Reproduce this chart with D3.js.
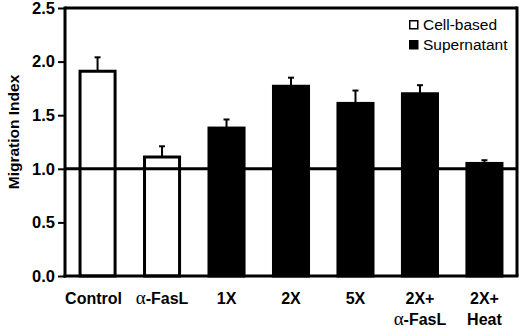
<!DOCTYPE html>
<html>
<head>
<meta charset="utf-8">
<script src="https://cdn.jsdelivr.net/npm/d3@7"></script>
<style>
  body { margin: 0; background: #fff; }
  text { font-family: "Liberation Sans", Arial, sans-serif; }
</style>
</head>
<body>
<svg id="chart" width="520" height="329"></svg>
<script>
// data
const categories = ['Control', 'a-FasL', '1X', '2X', '5X', '2X+a-FasL', '2X+Heat'];
const labelLines = [['Control'], ['α-FasL'], ['1X'], ['2X'], ['5X'], ['2X+', 'α-FasL'], ['2X+', 'Heat']];
const groups = ['cell', 'cell', 'sup', 'sup', 'sup', 'sup', 'sup'];
const means = [1.91, 1.11, 1.38, 1.77, 1.61, 1.70, 1.05];
const errors = [0.13, 0.10, 0.08, 0.08, 0.12, 0.08, 0.03];
const yTicks = [0, 0.5, 1.0, 1.5, 2.0, 2.5];
const legendItems = [{ key: 'cell', label: 'Cell-based' }, { key: 'sup', label: 'Supernatant' }];

const data = categories.map((c, i) => ({ cat: c, lines: labelLines[i], group: groups[i], mean: means[i], err: errors[i] }));
const fillFor = g => g === 'cell' ? '#fff' : '#000';

const pLeft = 65, pRight = 517, pTop = 8, pBottom = 276;
const svg = d3.select('#chart');

const x = d3.scaleBand().domain(categories).range([pLeft, pRight]).paddingInner(0.41).paddingOuter(0.21);
const y = d3.scaleLinear().domain([0, 2.5]).range([pBottom, pTop]);

// frame top + right
svg.append('line').attr('x1', pLeft).attr('x2', pRight).attr('y1', pTop).attr('y2', pTop)
  .attr('stroke', '#000').attr('stroke-width', 3);
svg.append('line').attr('x1', pRight).attr('x2', pRight).attr('y1', pTop - 1.5).attr('y2', pBottom)
  .attr('stroke', '#000').attr('stroke-width', 3);

// error bars (drawn first, bar tops cover the lower end)
const eb = svg.append('g');
eb.selectAll('line.v').data(data).enter().append('line')
  .attr('x1', d => x(d.cat) + x.bandwidth() / 2).attr('x2', d => x(d.cat) + x.bandwidth() / 2)
  .attr('y1', d => y(d.mean)).attr('y2', d => y(d.mean + d.err))
  .attr('stroke', '#000').attr('stroke-width', 2);
eb.selectAll('line.h').data(data).enter().append('line')
  .attr('x1', d => x(d.cat) + x.bandwidth() / 2 - 3).attr('x2', d => x(d.cat) + x.bandwidth() / 2 + 3)
  .attr('y1', d => y(d.mean + d.err)).attr('y2', d => y(d.mean + d.err))
  .attr('stroke', '#000').attr('stroke-width', 2);

// bars
svg.append('g').selectAll('rect').data(data).enter().append('rect')
  .attr('x', d => x(d.cat) + 1.5)
  .attr('width', x.bandwidth() - 3)
  .attr('y', d => y(d.mean))
  .attr('height', d => y(0) - y(d.mean))
  .attr('fill', d => fillFor(d.group))
  .attr('stroke', '#000').attr('stroke-width', 3);

// reference line at 1.0
svg.append('line').attr('x1', pLeft).attr('x2', pRight).attr('y1', y(1)).attr('y2', y(1))
  .attr('stroke', '#000').attr('stroke-width', 3);

// y axis
const yAxis = d3.axisLeft(y).tickValues(yTicks).tickFormat(d3.format('.1f')).tickSize(7).tickPadding(3);
const ya = svg.append('g').attr('transform', `translate(${pLeft},0)`).call(yAxis);
ya.select('.domain').attr('stroke-width', 3).attr('d', `M0,${pTop - 1.5}V${pBottom + 1.5}`);
ya.selectAll('.tick line').attr('stroke-width', 2);
ya.selectAll('.tick text').attr('font-size', 16.5).attr('font-weight', 'bold')
  .attr('font-family', '"Liberation Sans", Arial, sans-serif').attr('fill', '#000');

// x axis line
svg.append('line').attr('x1', pLeft - 1.5).attr('x2', pRight + 1.5).attr('y1', pBottom).attr('y2', pBottom)
  .attr('stroke', '#000').attr('stroke-width', 3);

// x labels
const xl = svg.append('g').selectAll('text').data(data).enter().append('text')
  .attr('text-anchor', 'middle').attr('font-size', 16).attr('font-weight', 'bold')
  .attr('transform', (d, i) => `translate(${x(d.cat) + x.bandwidth() / 2 + (i === 0 ? -4 : 0)},303.5)`);
xl.each(function (d) {
  const t = d3.select(this);
  d.lines.forEach((ln, j) => {
    const ts = t.append('tspan').attr('x', 0).attr('dy', j === 0 ? 0 : 21.5);
    if (ln.startsWith('α')) {
      ts.append('tspan').attr('font-weight', 'normal').attr('font-family', '"Liberation Serif", serif').attr('font-size', 19).text('α');
      ts.append('tspan').text(ln.slice(1));
    } else {
      ts.text(ln);
    }
  });
});

// y label
svg.append('text').attr('transform', 'translate(18.5,132) rotate(-90)')
  .attr('text-anchor', 'middle').attr('font-size', 15.5).attr('font-weight', 'bold')
  .text('Migration Index');

// legend
const lg = svg.append('g').attr('transform', 'translate(409,20)');
const li = lg.selectAll('g').data(legendItems).enter().append('g')
  .attr('transform', (d, i) => `translate(0,${i * 20})`);
li.append('rect').attr('x', 0.75).attr('y', 0.75).attr('width', 8).attr('height', 8)
  .attr('fill', d => fillFor(d.key)).attr('stroke', '#000').attr('stroke-width', 1.5);
li.append('text').attr('x', 14).attr('y', 10).attr('font-size', 15.5).text(d => d.label);
</script>
</body>
</html>
